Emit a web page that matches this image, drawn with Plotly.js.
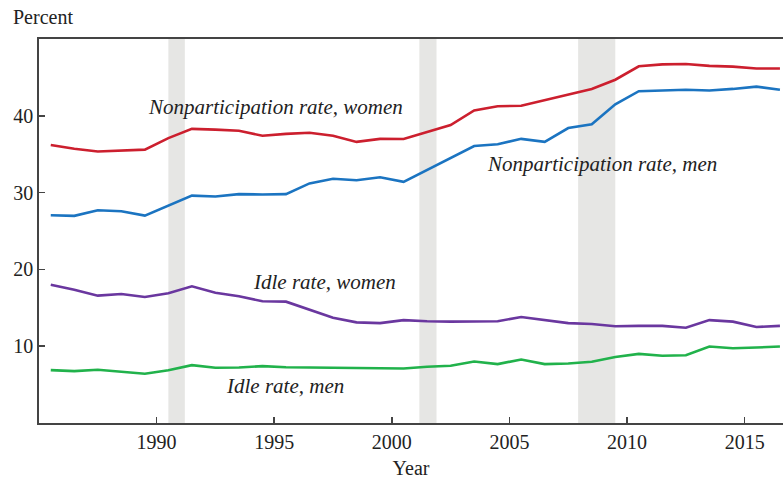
<!DOCTYPE html>
<html>
<head>
<meta charset="utf-8">
<script src="https://cdn.plot.ly/plotly-3.0.1.min.js"></script>
<style>html,body{margin:0;padding:0;background:#fff;}#chart{width:783px;height:483px;}</style>
</head>
<body>
<div id="chart"></div>
<script>
var years = [1985.5,1986.5,1987.5,1988.5,1989.5,1990.5,1991.5,1992.5,1993.5,1994.5,1995.5,1996.5,1997.5,1998.5,1999.5,2000.5,2001.5,2002.5,2003.5,2004.5,2005.5,2006.5,2007.5,2008.5,2009.5,2010.5,2011.5,2012.5,2013.5,2014.5,2015.5,2016.5];

var nonpartWomen = [36.2,35.7,35.35,35.5,35.6,37.1,38.3,38.2,38.05,37.4,37.65,37.8,37.4,36.6,37.0,36.97,37.9,38.8,40.7,41.25,41.3,42.0,42.8,43.5,44.7,46.45,46.7,46.75,46.5,46.4,46.15,46.15];
var nonpartMen = [27.05,26.97,27.7,27.58,27.0,28.27,29.6,29.5,29.8,29.75,29.8,31.2,31.8,31.6,32.0,31.4,32.95,34.5,36.06,36.3,37.0,36.6,38.4,38.9,41.5,43.2,43.3,43.4,43.3,43.5,43.8,43.4];
var idleWomen = [18.0,17.36,16.58,16.8,16.4,16.9,17.8,16.97,16.5,15.85,15.8,14.7,13.7,13.1,13.0,13.4,13.25,13.2,13.25,13.25,13.8,13.44,13.0,12.9,12.6,12.65,12.65,12.4,13.4,13.2,12.5,12.65];
var idleMen = [6.88,6.75,6.93,6.71,6.41,6.88,7.53,7.19,7.23,7.4,7.25,7.23,7.19,7.14,7.1,7.1,7.32,7.45,8.0,7.67,8.27,7.67,7.75,7.97,8.6,9.0,8.75,8.83,9.96,9.74,9.83,9.96];

var recessionStart = [1990.5, 2001.17, 2007.92];
var recessionEnd = [1991.2, 2001.9, 2009.5];

var xTicks = [1990,1995,2000,2005,2010,2015];
var yTicks = [10,20,30,40];

var seriesNames = ['Nonparticipation rate, women','Nonparticipation rate, men','Idle rate, women','Idle rate, men'];
var seriesColors = ['#cc1f2e','#1b74c1','#6a379f','#21b24b'];
var seriesData = [nonpartWomen, nonpartMen, idleWomen, idleMen];

var labelX = [1995.05, 2008.95, 1997.15, 1995.45];
var labelY = [41.1, 33.7, 18.4, 4.8];

var traces = seriesData.map(function(d, i){
  return {x: years, y: d, type: 'scatter', mode: 'lines', name: seriesNames[i],
          line: {color: seriesColors[i], width: 2.6}, hoverinfo: 'skip'};
});

var shapes = recessionStart.map(function(s, i){
  return {type: 'rect', xref: 'x', yref: 'paper', x0: s, x1: recessionEnd[i], y0: 0, y1: 1,
          fillcolor: '#e6e6e4', line: {width: 0}, layer: 'below'};
});

var annotations = seriesNames.map(function(n, i){
  return {x: labelX[i], y: labelY[i], xref: 'x', yref: 'y', text: '<i>' + n + '</i>', showarrow: false,
          xanchor: 'center', yanchor: 'middle', font: {family: 'Liberation Serif', size: 21, color: '#222'}};
});
annotations.push({xref: 'paper', yref: 'paper', x: -0.038, y: 1.0, yshift: 22, xanchor: 'left', yanchor: 'middle',
  text: 'Percent', showarrow: false, font: {family: 'Liberation Serif', size: 20, color: '#222'}});

var layout = {
  width: 783, height: 483,
  margin: {l: 39, r: 0, t: 39, b: 60, pad: 0},
  paper_bgcolor: '#fff', plot_bgcolor: '#fff',
  showlegend: false,
  font: {family: 'Liberation Serif', size: 20, color: '#222'},
  xaxis: {range: [1985, 2016.63], tickvals: xTicks, ticktext: xTicks.map(String), ticks: 'inside', ticklen: 6,
          tickwidth: 1.5, tickcolor: '#444', showline: true, linecolor: '#444', linewidth: 1.8, mirror: true,
          showgrid: false, zeroline: false, tickfont: {family: 'Liberation Serif', size: 20, color: '#222'},
          title: {text: 'Year', font: {family: 'Liberation Serif', size: 20, color: '#222'}, standoff: 9}},
  yaxis: {range: [0, 50], tickvals: yTicks, ticktext: yTicks.map(String), ticks: 'inside', ticklen: 6,
          tickwidth: 1.5, tickcolor: '#444', showline: true, linecolor: '#444', linewidth: 1.8, mirror: false,
          showgrid: false, zeroline: false, tickfont: {family: 'Liberation Serif', size: 20, color: '#222'}},
  shapes: shapes,
  annotations: annotations
};

Plotly.newPlot('chart', traces, layout, {displayModeBar: false, staticPlot: true});
</script>
</body>
</html>
